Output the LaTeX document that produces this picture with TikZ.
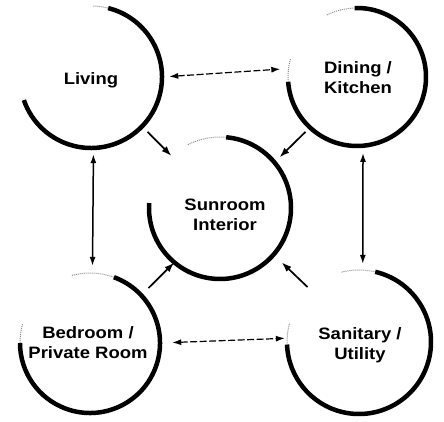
\documentclass[tikz,border=0pt]{standalone}
\usepackage{fontspec}
\setmainfont{Liberation Sans}[FakeStretch=1.12]
\usetikzlibrary{arrows.meta}
\begin{document}
\begin{tikzpicture}[x=1pt,y=1pt,
  room/.style={circle, draw=none, inner sep=0pt},
  ring/.style={line width=4.5pt},
  faint/.style={line width=1pt, densely dotted, black!45},
  lbl/.style={font=\bfseries\fontsize{16.5}{20}\selectfont, align=center, inner sep=0pt},
  link/.style={line width=1.5pt, {Latex[length=9pt,width=6pt]}-{Latex[length=9pt,width=6pt]}},
  dlink/.style={link, line width=1.2pt, dash pattern=on 7pt off 2.5pt},
  toward/.style={line width=1.7pt, -{Latex[length=10pt,width=7pt]}}]
\useasboundingbox (0,0) rectangle (444,422);
\fill[white] (0,0) rectangle (444,422);

% room circles (invisible nodes used as anchors)
\node[room, minimum size=142pt] (liv) at (91,345) {};
\node[room, minimum size=138pt] (din) at (357,345) {};
\node[room, minimum size=142pt] (sun) at (220,214) {};
\node[room, minimum size=140pt] (bed) at (90,79) {};
\node[room, minimum size=144pt] (san) at (359,80) {};

% drawn arcs
\draw[ring] (liv.center) ++(76:71) arc[start angle=76, end angle=-161, radius=71];
\draw[faint] (liv.center) ++(88:71) arc[start angle=88, end angle=76, radius=71];

\draw[ring] (din.center) ++(92:69) arc[start angle=92, end angle=-176, radius=69];
\draw[faint] (din.center) ++(116:69) arc[start angle=116, end angle=92, radius=69];
\draw[faint] (din.center) ++(-176:69) arc[start angle=-176, end angle=-195, radius=69];

\draw[ring] (sun.center) ++(85:71) arc[start angle=85, end angle=-184, radius=71];
\draw[faint] (sun.center) ++(117:71) arc[start angle=117, end angle=85, radius=71];

\draw[ring] (bed.center) ++(70:70) arc[start angle=70, end angle=-180, radius=70];
\draw[faint] (bed.center) ++(105:70) arc[start angle=105, end angle=70, radius=70];
\draw[faint] (bed.center) ++(-180:70) arc[start angle=-180, end angle=-196, radius=70];

\draw[ring] (san.center) ++(77:72) arc[start angle=77, end angle=-178, radius=72];
\draw[faint] (san.center) ++(104:72) arc[start angle=104, end angle=77, radius=72];
\draw[faint] (san.center) ++(-178:72) arc[start angle=-178, end angle=-195, radius=72];

% labels
\node[lbl] (livT) at (91,342) {Living};
\node[lbl] (dinT) at (358,344) {Dining /\\Kitchen};
\node[lbl] (sunT) at (225,207) {Sunroom\\Interior};
\node[lbl] (bedT) at (88,79) {Bedroom /\\Private Room};
\node[lbl] (sanT) at (360,77) {Sanitary /\\Utility};

% two-way links
\draw[dlink, shorten <=7pt, shorten >=8pt] (liv.0) -- (din.173);
\draw[dlink, shorten <=12pt, shorten >=2pt] (bed.0) -- (san.177);
\draw[link, shorten <=6pt, shorten >=7pt] (liv.-88) -- (bed.88);
\draw[link, shorten <=7pt, shorten >=6pt] (din.-85) -- (san.87);

% links toward the sunroom
\draw[toward, shorten <=7.5pt] (liv.-44.5) -- (sun.133);
\draw[toward, shorten <=6pt, shorten >=7pt] (din.-133.4) -- (sun.40.4);
\draw[toward, shorten <=10pt] (bed.43.5) -- (sun.-130.6);
\draw[toward, shorten <=3pt, shorten >=11pt] (san.133.9) -- (sun.-41.6);
\end{tikzpicture}
\end{document}
